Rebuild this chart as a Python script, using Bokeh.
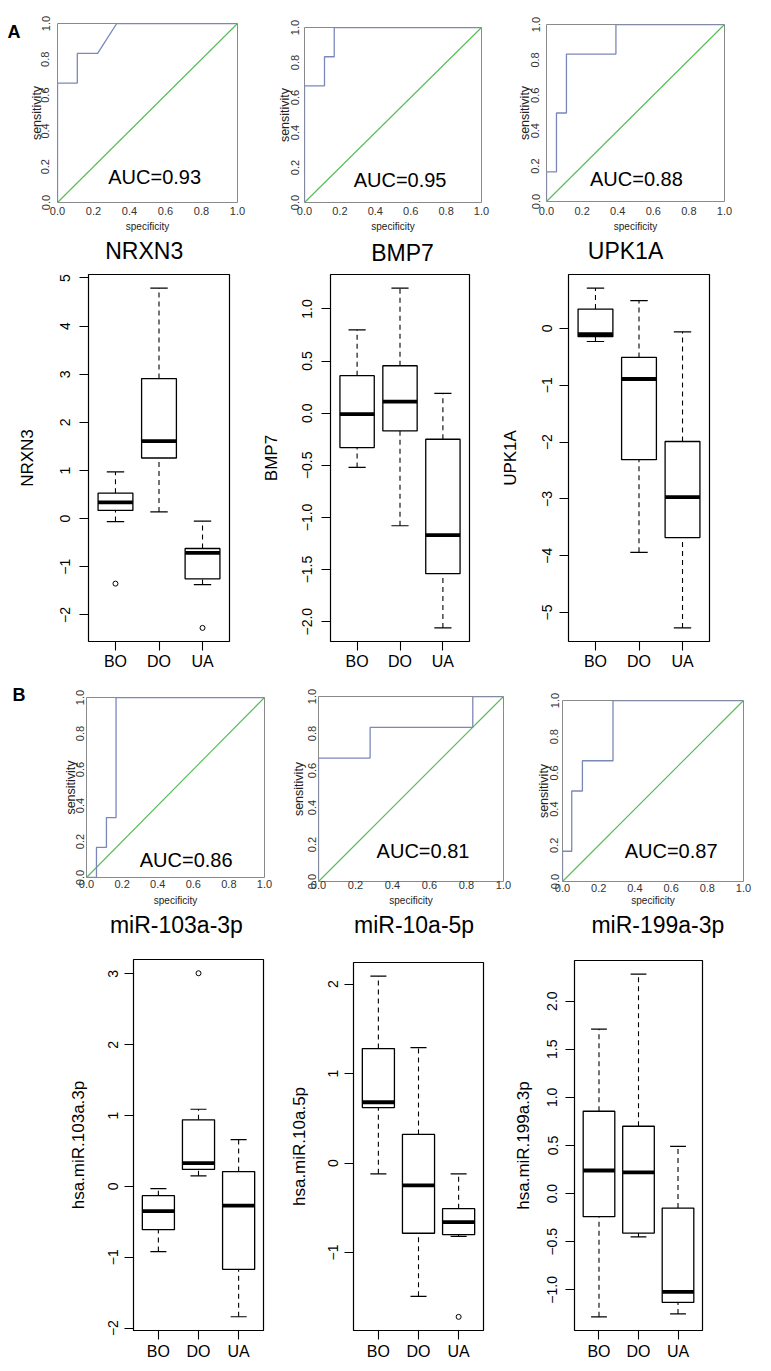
import json
from bokeh.plotting import figure
from bokeh.layouts import row, column
from bokeh.models import (Range1d, FixedTicker, Label, PrintfTickFormatter,
                          CustomJSTickFormatter, LinearAxis)
from bokeh.embed import file_html
from bokeh.resources import INLINE

FONT = "Liberation Sans"

# ---------------- data ----------------
groups = ["BO", "DO", "UA"]
panel_labels = ["A", "B"]

roc_ticks = [0.0, 0.2, 0.4, 0.6, 0.8, 1.0]

# ROC curves (step points) and AUC values
roc_nrxn3_x = [0, 0, 0.11, 0.11, 0.223, 0.329, 1.0]
roc_nrxn3_y = [0, 0.667, 0.667, 0.833, 0.833, 1.0, 1.0]
auc_nrxn3 = "AUC=0.93"

roc_bmp7_x = [0, 0, 0.113, 0.113, 0.168, 0.168, 1.0]
roc_bmp7_y = [0, 0.667, 0.667, 0.833, 0.833, 1.0, 1.0]
auc_bmp7 = "AUC=0.95"

roc_upk1a_x = [0, 0, 0.056, 0.056, 0.112, 0.112, 0.39, 0.39, 1.0]
roc_upk1a_y = [0, 0.167, 0.167, 0.5, 0.5, 0.833, 0.833, 1.0, 1.0]
auc_upk1a = "AUC=0.88"

roc_mir103_x = [0, 0.056, 0.056, 0.112, 0.112, 0.166, 0.166, 1.0]
roc_mir103_y = [0, 0, 0.167, 0.167, 0.333, 0.333, 1.0, 1.0]
auc_mir103 = "AUC=0.86"

roc_mir10a_x = [0, 0, 0.279, 0.279, 0.834, 0.834, 1.0]
roc_mir10a_y = [0, 0.667, 0.667, 0.833, 0.833, 1.0, 1.0]
auc_mir10a = "AUC=0.81"

roc_mir199a_x = [0, 0, 0.051, 0.051, 0.11, 0.11, 0.279, 0.279, 1.0]
roc_mir199a_y = [0, 0.167, 0.167, 0.5, 0.5, 0.667, 0.667, 1.0, 1.0]
auc_mir199a = "AUC=0.87"

# Box-plot statistics per group (BO, DO, UA)
nrxn3_lo = [-0.06, 0.14, -1.37]
nrxn3_q1 = [0.17, 1.26, -1.25]
nrxn3_med = [0.34, 1.61, -0.71]
nrxn3_q3 = [0.53, 2.91, -0.62]
nrxn3_hi = [0.97, 4.79, -0.05]
nrxn3_out_grp = ["BO", "UA"]
nrxn3_out_val = [-1.35, -2.27]
nrxn3_ticks = [-2, -1, 0, 1, 2, 3, 4, 5]

bmp7_lo = [-0.52, -1.08, -2.06]
bmp7_q1 = [-0.33, -0.17, -1.54]
bmp7_med = [-0.01, 0.11, -1.17]
bmp7_q3 = [0.36, 0.455, -0.25]
bmp7_hi = [0.80, 1.20, 0.19]
bmp7_out_grp = []
bmp7_out_val = []
bmp7_ticks = [-2.0, -1.5, -1.0, -0.5, 0.0, 0.5, 1.0]

upk1a_lo = [-0.23, -3.94, -5.27]
upk1a_q1 = [-0.145, -2.31, -3.68]
upk1a_med = [-0.10, -0.89, -2.97]
upk1a_q3 = [0.34, -0.51, -1.99]
upk1a_hi = [0.71, 0.49, -0.06]
upk1a_out_grp = []
upk1a_out_val = []
upk1a_ticks = [-5, -4, -3, -2, -1, 0]

mir103_lo = [-0.92, 0.15, -1.84]
mir103_q1 = [-0.61, 0.24, -1.17]
mir103_med = [-0.35, 0.33, -0.27]
mir103_q3 = [-0.13, 0.94, 0.21]
mir103_hi = [-0.03, 1.09, 0.66]
mir103_out_grp = ["DO"]
mir103_out_val = [3.01]
mir103_ticks = [-2, -1, 0, 1, 2, 3]

mir10a_lo = [-0.12, -1.49, -0.82]
mir10a_q1 = [0.62, -0.785, -0.80]
mir10a_med = [0.68, -0.25, -0.66]
mir10a_q3 = [1.28, 0.32, -0.51]
mir10a_hi = [2.09, 1.29, -0.12]
mir10a_out_grp = ["UA"]
mir10a_out_val = [-1.72]
mir10a_ticks = [-1, 0, 1, 2]

mir199a_lo = [-1.28, -0.45, -1.25]
mir199a_q1 = [-0.24, -0.41, -1.13]
mir199a_med = [0.24, 0.22, -1.02]
mir199a_q3 = [0.856, 0.70, -0.15]
mir199a_hi = [1.71, 2.28, 0.49]
mir199a_out_grp = []
mir199a_out_val = []
mir199a_ticks = [-1.0, -0.5, 0.0, 0.5, 1.0, 1.5, 2.0]

# ---------------- styling helpers ----------------
ROC_LINE = "#7b87b9"
ROC_DIAG = "#55bb55"
ROC_FRAME = "#8a8a8a"
ROC_TXT = "#333333"


def no_align(p):
    # each panel keeps its own frame position inside the rows
    try:
        p.frame_align = False
    except Exception:
        pass


def hide_title(p):
    if p.title is not None:
        p.title.text = ""
        p.title.text_font_size = "0px"
        p.title.standoff = 0
        p.title.visible = False


def base_fig(w, h, bl, br, bt, bb, xr, yr):
    p = figure(width=w, height=h, x_range=xr, y_range=yr, title=None,
               output_backend="svg", toolbar_location=None,
               min_border_left=bl, min_border_right=br,
               min_border_top=bt, min_border_bottom=bb)
    hide_title(p)
    no_align(p)
    p.grid.visible = False
    p.background_fill_color = "white"
    p.border_fill_color = "white"
    return p


def label_fig(text, w, h, tx, tstand):
    # panel letter drawn as the heading of an otherwise empty narrow figure
    p = figure(width=w, height=h, title=text,
               x_axis_type=None, y_axis_type=None, output_backend="svg",
               toolbar_location=None, min_border=0)
    no_align(p)
    p.title.align = "left"
    p.title.offset = tx
    p.title.vertical_align = "top"
    p.title.standoff = tstand
    p.title.text_font = FONT
    p.title.text_font_size = "18px"
    p.title.text_font_style = "bold"
    p.title.text_color = "black"
    p.outline_line_color = None
    p.background_fill_color = "white"
    p.border_fill_color = "white"
    return p


def roc_fig(xs, ys, auc, w, h, bl, br, bt, bb, auc_x, auc_y,
            yts, yls, xts, xls):
    p = base_fig(w, h, bl, br, bt, bb, Range1d(0, 1), Range1d(0, 1))
    p.outline_line_color = ROC_FRAME
    p.outline_line_width = 1
    p.line([0, 1], [0, 1], line_color=ROC_DIAG, line_width=1.1)
    p.line(xs, ys, line_color=ROC_LINE, line_width=1.3)
    for ax in (p.xaxis[0], p.yaxis[0]):
        ax.ticker = FixedTicker(ticks=roc_ticks)
        ax.formatter = PrintfTickFormatter(format="%.1f")
        ax.axis_line_color = None
        ax.major_tick_line_color = None
        ax.major_tick_out = 0
        ax.major_tick_in = 0
        ax.minor_tick_line_color = None
        ax.major_label_text_font = FONT
        ax.major_label_text_font_size = "11px"
        ax.major_label_text_color = ROC_TXT
        ax.axis_label_text_font = FONT
        ax.axis_label_text_font_style = "normal"
        ax.axis_label_text_color = "#222222"
    p.xaxis.axis_label = "specificity"
    p.xaxis.axis_label_text_font_size = "10px"
    p.xaxis.major_label_standoff = xts
    p.xaxis.axis_label_standoff = xls
    p.yaxis.axis_label = "sensitivity"
    p.yaxis.axis_label_text_font_size = "12.5px"
    p.yaxis.major_label_orientation = "vertical"
    p.yaxis.major_label_standoff = yts
    p.yaxis.axis_label_standoff = yls
    p.add_layout(Label(x=auc_x, y=auc_y, text=auc, text_font=FONT,
                       text_font_size="20px", text_align="center",
                       text_baseline="alphabetic", text_color="black"))
    return p


def box_fig(title, ylabel, lo, q1, med, q3, hi, out_grp, out_val, ticks, dec,
            w, h, bl, br, bt, bb, title_x, tstand, yts, yls, xts):
    xs = [i + 1 for i in range(len(groups))]
    allv = lo + hi + out_val
    ymin, ymax = min(allv), max(allv)
    pad = 0.04 * (ymax - ymin)
    n = len(groups)
    xpad = 0.04 * n
    p = base_fig(w, h, bl, br, bt, bb,
                 Range1d(0.5 - xpad, n + 0.5 + xpad),
                 Range1d(ymin - pad, ymax + pad))
    p.outline_line_color = "black"
    p.outline_line_width = 1.2

    # panel heading, written as the single label of an axis above the frame
    tax = LinearAxis(ticker=FixedTicker(ticks=[title_x]),
                     formatter=CustomJSTickFormatter(code="return %s;" % json.dumps(title)))
    tax.axis_line_color = None
    tax.major_tick_line_color = None
    tax.minor_tick_line_color = None
    tax.major_tick_out = 0
    tax.major_tick_in = 0
    tax.major_label_standoff = tstand
    tax.major_label_text_font = FONT
    tax.major_label_text_font_size = "23px"
    tax.major_label_text_color = "black"
    p.add_layout(tax, "above")

    hw, cw = 0.4, 0.2
    dash = "5 4"
    p.segment(xs, q3, xs, hi, line_color="black", line_width=1.1, line_dash=dash)
    p.segment(xs, lo, xs, q1, line_color="black", line_width=1.1, line_dash=dash)
    p.segment([x - cw for x in xs], hi, [x + cw for x in xs], hi,
              line_color="black", line_width=1.2)
    p.segment([x - cw for x in xs], lo, [x + cw for x in xs], lo,
              line_color="black", line_width=1.2)
    p.quad(left=[x - hw for x in xs], right=[x + hw for x in xs],
           bottom=q1, top=q3, fill_color="white", line_color="black",
           line_width=1.3)
    p.segment([x - hw for x in xs], med, [x + hw for x in xs], med,
              line_color="black", line_width=3.8)
    if out_val:
        ox = [groups.index(g) + 1 for g in out_grp]
        p.scatter(ox, out_val, marker="circle", size=5, fill_color=None,
                  line_color="black", line_width=1)

    xa = p.below[0]
    xa.ticker = FixedTicker(ticks=xs)
    xa.major_label_overrides = {x: g for x, g in zip(xs, groups)}
    ya = p.left[0]
    ya.ticker = FixedTicker(ticks=ticks)
    ya.formatter = CustomJSTickFormatter(
        code="return tick.toFixed(%d).replace('-', '\u2212');" % dec)
    for ax in (xa, ya):
        ax.axis_line_color = None
        ax.major_tick_out = 9
        ax.major_tick_in = 0
        ax.major_tick_line_color = "black"
        ax.major_tick_line_width = 1.1
        ax.minor_tick_line_color = None
        ax.major_label_text_font = FONT
        ax.major_label_text_color = "black"
        ax.axis_label_text_font = FONT
        ax.axis_label_text_font_style = "normal"
        ax.axis_label_text_color = "black"
    xa.major_label_text_font_size = "16px"
    xa.major_label_standoff = xts
    ya.major_label_text_font_size = "14px"
    ya.major_label_orientation = "vertical"
    ya.major_label_standoff = yts
    ya.axis_label = ylabel
    ya.axis_label_text_font_size = "17px"
    ya.axis_label_standoff = yls
    return p


# ---------------- row A: ROC (height 234) ----------------
fA = label_fig(panel_labels[0], 24, 234, 7, 43)
a1 = roc_fig(roc_nrxn3_x, roc_nrxn3_y, auc_nrxn3, 236, 234, 33, 23, 23, 31,
             0.54, 0.14, 8, -5, 4, 3)
a2 = roc_fig(roc_bmp7_x, roc_bmp7_y, auc_bmp7, 252, 234, 44, 31, 27, 32,
             0.54, 0.13, 6, -4, 4, 3)
a3 = roc_fig(roc_upk1a_x, roc_upk1a_y, auc_upk1a, 251, 234, 34, 39, 24, 33,
             0.505, 0.127, 7, -3, 5, 3)

# ---------------- row A: boxes (height 438) ----------------
b1 = box_fig("NRXN3", "NRXN3", nrxn3_lo, nrxn3_q1, nrxn3_med, nrxn3_q3, nrxn3_hi,
             nrxn3_out_grp, nrxn3_out_val, nrxn3_ticks, 0,
             258, 438, 88, 29, 40, 28, 1.66, 11, 9, 21, 2)
b2 = box_fig("BMP7", "BMP7", bmp7_lo, bmp7_q1, bmp7_med, bmp7_q3, bmp7_hi,
             bmp7_out_grp, bmp7_out_val, bmp7_ticks, 1,
             237, 438, 70, 26, 40, 28, 2.06, 9, 9, 19, 2)
b3 = box_fig("UPK1A", "UPK1A", upk1a_lo, upk1a_q1, upk1a_med, upk1a_q3, upk1a_hi,
             upk1a_out_grp, upk1a_out_val, upk1a_ticks, 0,
             268, 438, 73, 54, 40, 28, 1.69, 11, 7, 20, 2)

# ---------------- row B: ROC (height 236) ----------------
fB = label_fig(panel_labels[1], 40, 236, 12, 25)
c1 = roc_fig(roc_mir103_x, roc_mir103_y, auc_mir103, 238, 236, 46, 14, 25, 31,
             0.56, 0.096, 3, -5, 2, 4)
c2 = roc_fig(roc_mir10a_x, roc_mir10a_y, auc_mir10a, 247, 236, 40, 22, 24, 27,
             0.565, 0.164, 3, -1, -1, 3)
c3 = roc_fig(roc_mir199a_x, roc_mir199a_y, auc_mir199a, 238, 236, 37, 20, 28, 26,
             0.6, 0.17, 4, -3, 2, 0)

# ---------------- row B: boxes (height 458) ----------------
d1 = box_fig("miR-103a-3p", "hsa.miR.103a.3p", mir103_lo, mir103_q1, mir103_med,
             mir103_q3, mir103_hi, mir103_out_grp, mir103_out_val, mir103_ticks, 0,
             278, 458, 133, 15, 51, 36, 1.45, 22, 6, 18, 3)
d2 = box_fig("miR-10a-5p", "hsa.miR.10a.5p", mir10a_lo, mir10a_q1, mir10a_med,
             mir10a_q3, mir10a_hi, mir10a_out_grp, mir10a_out_val, mir10a_ticks, 0,
             232, 458, 75, 27, 51, 36, 1.89, 25, 6, 17, 3)
d3 = box_fig("miR-199a-3p", "hsa.miR.199a.3p", mir199a_lo, mir199a_q1, mir199a_med,
             mir199a_q3, mir199a_hi, mir199a_out_grp, mir199a_out_val, mir199a_ticks, 1,
             253, 458, 63, 61, 51, 36, 2.49, 23, 8, 12, 3)

layout = column(row(fA, a1, a2, a3), row(b1, b2, b3),
                row(fB, c1, c2, c3), row(d1, d2, d3))

open("out.html", "w").write(file_html(layout, INLINE))
